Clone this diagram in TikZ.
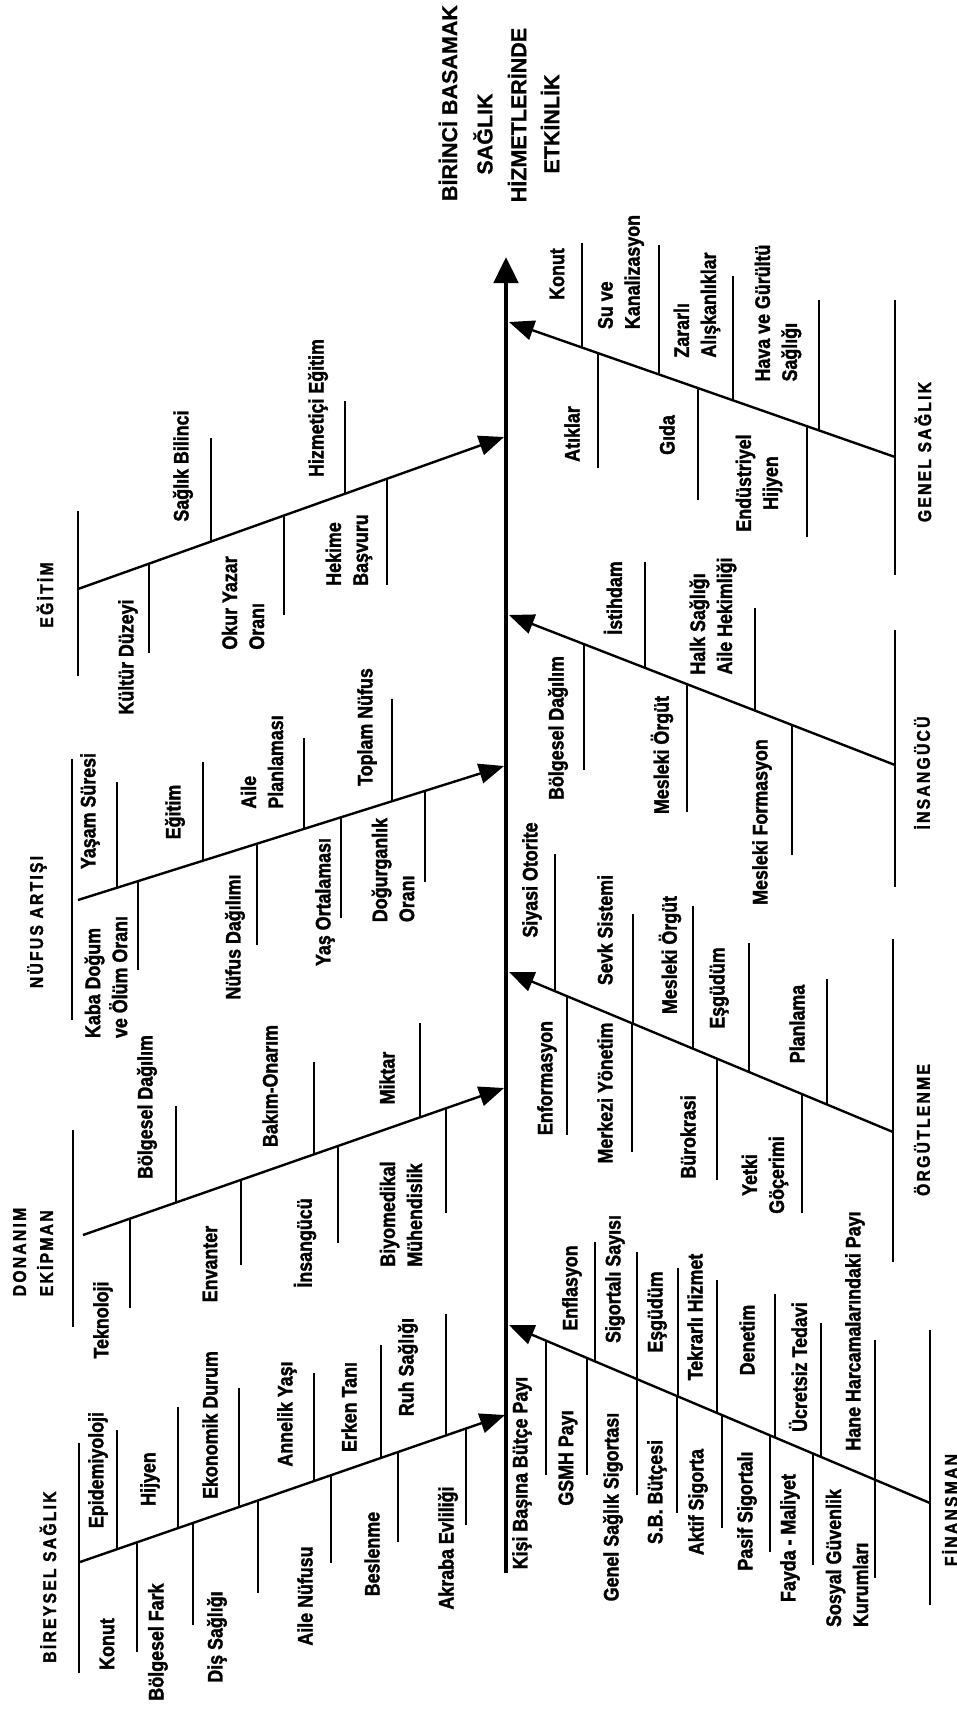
\documentclass[tikz,border=0pt]{standalone}
\usepackage{fontspec}
\usetikzlibrary{arrows.meta,calc}
\newfontfamily\labfont[FakeStretch=0.85,RawFeature={embolden=1.6}]{Liberation Sans}
\newfontfamily\catfont[FakeStretch=0.85,RawFeature={embolden=1.6},LetterSpace=12]{Liberation Sans}
\newfontfamily\ttlfont[RawFeature={embolden=0.8}]{Liberation Sans}

% a rib: vertical stroke from the point of bone #1 at x=#2 down/up to y=#3
\newcommand\rib[3]{%
  \draw[ribline] let \p1=(#1s), \p2=(#1e) in
    (#2pt, {\y1+(#2pt-\x1)/(\x2-\x1)*(\y2-\y1)}) -- (#2pt,-#3pt);}

\tikzset{
  lab/.style={font=\labfont\bfseries\fontsize{21}{27}\selectfont, rotate=90, inner sep=0pt, align=left},
  labc/.style={lab, align=center},
  cat/.style={font=\catfont\bfseries\fontsize{18.5}{27}\selectfont, rotate=90, inner sep=0pt, align=left},
  ttl/.style={font=\ttlfont\bfseries\fontsize{21.5}{34}\selectfont, rotate=90, inner sep=0pt},
  bone/.style={line width=2.4pt, -{Triangle[length=25pt,width=20pt]}},
  ribline/.style={line width=2.3pt},
  barline/.style={line width=2.4pt},
  spine/.style={line width=4.8pt, -{Triangle[length=26pt,width=24pt]}}
}

\begin{document}
\begin{tikzpicture}[x=1pt,y=-1pt]
\fill[white] (0,0) rectangle (957,1713);
\useasboundingbox (0,0) rectangle (957,1713);

% ---------- title ----------
\node[ttl] (t1) at (448,103) {BİRİNCİ BASAMAK};
\node[ttl] (t2) at (483,134) {SAĞLIK};
\node[ttl] (t3) at (517,115) {HİZMETLERİNDE};
\node[ttl] (t4) at (550,124) {ETKİNLİK};

% ---------- spine ----------
\coordinate (sb) at (506,1573);
\coordinate (st) at (506,257);
\draw[spine] (sb) -- (st);

% ---------- bones ----------
\coordinate (Es) at (78,589);   \coordinate (Ee) at (504,437);
\coordinate (Ns) at (78,900);   \coordinate (Ne) at (504,766);
\coordinate (Ds) at (83,1235);  \coordinate (De) at (504,1088);
\coordinate (Bs) at (80,1562);  \coordinate (Be) at (505,1415);
\coordinate (Gs) at (895,457);  \coordinate (Ge) at (509,322);
\coordinate (Is) at (895,765);  \coordinate (Ie) at (509,615);
\coordinate (Os) at (893,1132); \coordinate (Oe) at (509,972);
\coordinate (Fs) at (930,1503); \coordinate (Fe) at (509,1325);

\foreach \b in {E,N,D,B,G,I,O,F} \draw[bone] (\b s) -- (\b e);

% ---------- category bars ----------
\draw[barline] (78,511) -- (78,676);
\draw[barline] (72,759) -- (72,1020);
\draw[barline] (73,1130) -- (73,1327);
\draw[barline] (79,1443) -- (79,1673);
\draw[barline] (895,300) -- (895,575);
\draw[barline] (895,630) -- (895,887);
\draw[barline] (893,939) -- (893,1262);
\draw[barline] (930,1330) -- (930,1605);

% ---------- ribs ----------
% EĞİTİM
\rib{E}{149}{653} \rib{E}{211}{438} \rib{E}{284}{615} \rib{E}{345}{401} \rib{E}{387}{585}
% NÜFUS ARTIŞI
\rib{N}{117}{782} \rib{N}{203}{762} \rib{N}{304}{738} \rib{N}{392}{699}
\rib{N}{138}{970} \rib{N}{257}{945} \rib{N}{341}{918} \rib{N}{425}{882}
% DONANIM EKİPMAN
\rib{D}{130}{1308} \rib{D}{241}{1265} \rib{D}{338}{1243} \rib{D}{446}{1213}
\rib{D}{176}{1106} \rib{D}{314}{1062} \rib{D}{420}{1023}
% BİREYSEL SAĞLIK
\rib{B}{117}{1430} \rib{B}{178}{1407} \rib{B}{239}{1388} \rib{B}{314}{1373} \rib{B}{381}{1345} \rib{B}{446}{1314}
\rib{B}{137}{1652} \rib{B}{193}{1625} \rib{B}{258}{1593} \rib{B}{331}{1563} \rib{B}{398}{1542} \rib{B}{466}{1525}
% GENEL SAĞLIK
\rib{G}{582}{243} \rib{G}{659}{245} \rib{G}{733}{276} \rib{G}{819}{300}
\rib{G}{598}{468} \rib{G}{698}{500} \rib{G}{807}{537}
% İNSANGÜCÜ
\rib{I}{584}{770} \rib{I}{687}{812} \rib{I}{792}{855}
\rib{I}{645}{562} \rib{I}{755}{608}
% ÖRGÜTLENME
\rib{O}{555}{854} \rib{O}{633}{914} \rib{O}{693}{906} \rib{O}{749}{943} \rib{O}{827}{979}
\rib{O}{567}{1135} \rib{O}{632}{1152} \rib{O}{717}{1180} \rib{O}{802}{1213}
% FİNANSMAN
\rib{F}{546}{1475} \rib{F}{587}{1475} \rib{F}{637}{1495} \rib{F}{677}{1513}
\rib{F}{722}{1528} \rib{F}{770}{1552} \rib{F}{813}{1565} \rib{F}{875}{1578}
\rib{F}{595}{1242} \rib{F}{637}{1252} \rib{F}{678}{1268} \rib{F}{717}{1280}
\rib{F}{775}{1294} \rib{F}{821}{1323} \rib{F}{875}{1340}

% ---------- labels: EĞİTİM ----------
\node[cat] (cE) at (45,595) {EĞİTİM};
\node[lab] (e1) at (128,657) {Kültür Düzeyi};
\node[lab] (e2) at (183,466) {Sağlık Bilinci};
\node[lab] (e3) at (243,603) {Okur Yazar\\Oranı};
\node[lab] (e4) at (318,408) {Hizmetiçi Eğitim};
\node[lab] (e5) at (349,550) {Hekime\\Başvuru};

% ---------- labels: NÜFUS ARTIŞI ----------
\node[cat] (cN) at (37,922) {NÜFUS ARTIŞI};
\node[lab] (n1) at (90,811) {Yaşam Süresi};
\node[lab] (n2) at (175,812) {Eğitim};
\node[lab] (n3) at (262,762) {Aile\\Planlaması};
\node[lab] (n4) at (367,727) {Toplam Nüfus};
\node[lab] (n5) at (106,977) {Kaba Doğum\\ve Ölüm Oranı};
\node[lab] (n6) at (235,937) {Nüfus Dağılımı};
\node[lab] (n7) at (325,902) {Yaş Ortalaması};
\node[lab] (n8) at (393,870) {Doğurganlık\\Oranı};

% ---------- labels: DONANIM EKİPMAN ----------
\node[cat] (cD) at (33,1252) {DONANIM\\EKİPMAN};
\node[lab] (d1) at (103,1320) {Teknoloji};
\node[lab] (d2) at (147,1107) {Bölgesel Dağılım};
\node[lab] (d3) at (210,1264) {Envanter};
\node[lab] (d4) at (270,1086) {Bakım-Onarım};
\node[lab] (d5) at (305,1243) {İnsangücü};
\node[lab] (d6) at (387,1078) {Miktar};
\node[lab] (d7) at (401,1214) {Biyomedikal\\Mühendislik};

% ---------- labels: BİREYSEL SAĞLIK ----------
\node[cat] (cB) at (48,1577) {BİREYSEL SAĞLIK};
\node[lab] (b1) at (98,1470) {Epidemiyoloji};
\node[lab] (b2) at (107,1644) {Konut};
\node[lab] (b3) at (150,1479) {Hijyen};
\node[lab] (b4) at (158,1642) {Bölgesel Fark};
\node[lab] (b5) at (210,1425) {Ekonomik Durum};
\node[lab] (b6) at (217,1637) {Diş Sağlığı};
\node[lab] (b7) at (287,1414) {Annelik Yaşı};
\node[lab] (b8) at (305,1596) {Aile Nüfusu};
\node[lab] (b9) at (349,1407) {Erken Tanı};
\node[lab] (b10) at (372,1554) {Beslenme};
\node[lab] (b11) at (408,1367) {Ruh Sağlığı};
\node[lab] (b12) at (448,1548) {Akraba Evliliği};

% ---------- labels: GENEL SAĞLIK ----------
\node[cat] (cG) at (923,452) {GENEL SAĞLIK};
\node[lab] (g1) at (557,274) {Konut};
\node[lab] (g2) at (572,434) {Atıklar};
\node[lab] (g3) at (621,272) {Su ve\\Kanalizasyon};
\node[lab] (g4) at (667,435) {Gıda};
\node[lab] (g5) at (697,305) {Zararlı\\Alışkanlıklar};
\node[labc] (g6) at (759,483) {Endüstriyel\\Hijyen};
\node[lab] (g7) at (778,313) {Hava ve Gürültü\\Sağlığı};

% ---------- labels: İNSANGÜCÜ ----------
\node[cat] (cI) at (922,773) {İNSANGÜCÜ};
\node[lab] (i1) at (558,728) {Bölgesel Dağılım};
\node[lab] (i2) at (613,598) {İstihdam};
\node[lab] (i3) at (662,755) {Mesleki Örgüt};
\node[lab] (i4) at (713,616) {Halk Sağlığı\\Aile Hekimliği};
\node[lab] (i5) at (762,822) {Mesleki Formasyon};

% ---------- labels: ÖRGÜTLENME ----------
\node[cat] (cO) at (922,1130) {ÖRGÜTLENME};
\node[lab] (o1) at (532,880) {Siyasi Otorite};
\node[lab] (o2) at (547,1078) {Enformasyon};
\node[lab] (o3) at (605,930) {Sevk Sistemi};
\node[lab] (o4) at (605,1093) {Merkezi Yönetim};
\node[lab] (o5) at (670,955) {Mesleki Örgüt};
\node[lab] (o6) at (688,1137) {Bürokrasi};
\node[lab] (o7) at (719,988) {Eşgüdüm};
\node[labc] (o8) at (765,1175) {Yetki\\Göçerimi};
\node[lab] (o9) at (797,1024) {Planlama};

% ---------- labels: FİNANSMAN ----------
\node[cat] (cF) at (950,1510) {FİNANSMAN};
\node[lab] (f1) at (522,1473) {Kişi Başına Bütçe Payı};
\node[lab] (f2) at (568,1458) {GSMH Payı};
\node[lab] (f3) at (572,1288) {Enflasyon};
\node[lab] (f4) at (615,1279) {Sigortalı Sayısı};
\node[lab] (f5) at (613,1507) {Genel Sağlık Sigortası};
\node[lab] (f6) at (657,1312) {Eşgüdüm};
\node[lab] (f7) at (657,1492) {S.B. Bütçesi};
\node[lab] (f8) at (695,1317) {Tekrarlı Hizmet};
\node[lab] (f9) at (698,1502) {Aktif Sigorta};
\node[lab] (f10) at (747,1340) {Denetim};
\node[lab] (f11) at (747,1511) {Pasif Sigortalı};
\node[lab] (f12) at (798,1367) {Ücretsiz Tedavi};
\node[lab] (f13) at (790,1538) {Fayda - Maliyet};
\node[lab] (f14) at (855,1331) {Hane Harcamalarındaki Payı};
\node[lab] (f15) at (847,1558) {Sosyal Güvenlik\\Kurumları};
\end{tikzpicture}
\end{document}
